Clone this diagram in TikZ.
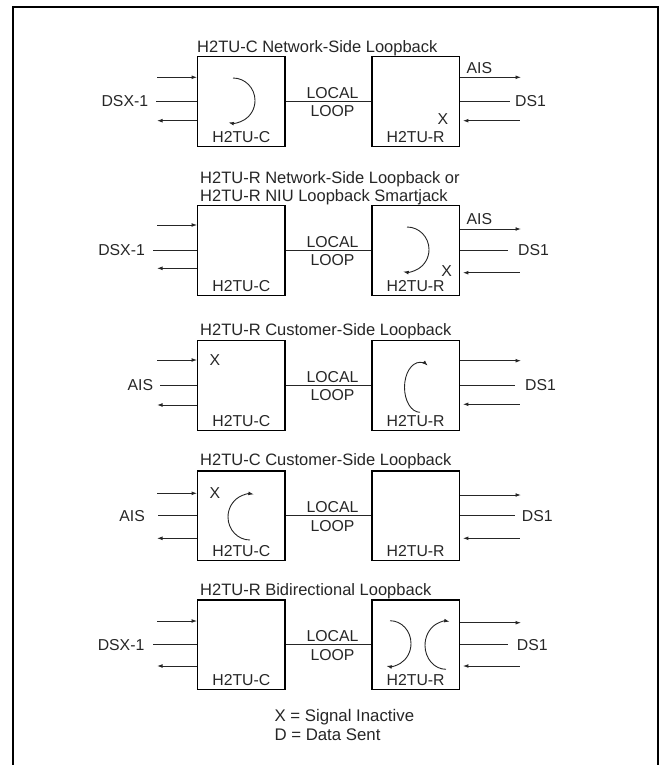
\documentclass[tikz,border=0pt]{standalone}
\usepackage{fontspec}
\setmainfont{Liberation Sans}
\usetikzlibrary{arrows.meta}
\begin{document}
\begin{tikzpicture}[x=1pt,y=-1pt,
  unitbox/.style={draw, line width=1.2pt, minimum width=87.3pt, minimum height=89.5pt, inner sep=0pt},
  sig/.style={line width=0.9pt, draw=black!85},
  sigarrow/.style={sig, -{Latex[length=5.5pt,width=3.8pt]}},
  looparc/.style={line width=0.9pt, draw=black!85, -{Latex[length=5.5pt,width=3.8pt]}},
  txt/.style={font=\fontsize{15.8}{18}\selectfont, inner sep=0pt, anchor=base, text=black!85},
  titletxt/.style={txt, anchor=base west, font=\fontsize{16.5}{18}\selectfont},
  legendtxt/.style={txt, anchor=base west, font=\fontsize{16.8}{18}\selectfont},
  frame/.style={line width=1.7pt}]
\useasboundingbox (0,0) rectangle (659,765);
\draw[frame] (12.7,765) -- (12.7,7.3) -- (658.3,7.3) -- (658.3,765);

\foreach \i/\t/\lt/\lb/\rt/\rb/\lab/\lx/\ls/\re/\rx in {
  1/56.7/20.6/64/20.6/64/DSX-1/148.3/156/510/515,
  2/205.7/19.3/62.6/23.3/67/DSX-1/145/153/508/518,
  3/340.7/19.3/64.3/20/63.6/AIS/153.3/160/515/525,
  4/471/22.3/67.3/24/67.3/AIS/145/158/515/521.7,
  5/600/21/66/22.7/66/DSX-1/144.5/153/508.3/516.7}{
  \pgfmathsetmacro\yc{\t+44.65}
  \pgfmathsetmacro\ya{\t+\lt}
  \pgfmathsetmacro\ym{\t+44.5}
  \pgfmathsetmacro\yb{\t+\lb}
  \pgfmathsetmacro\yra{\t+\rt}
  \pgfmathsetmacro\yrb{\t+\rb}
  \pgfmathsetmacro\ytx{\ym+5.7}
  \node[unitbox] (c\i) at (241.35,\yc) {};
  \node[unitbox] (r\i) at (415.65,\yc) {};
  % left side
  \coordinate (la\i) at (157,\ya);
  \draw[sigarrow] (la\i) -- (c\i.west |- la\i);
  \coordinate (lm\i) at (\ls,\ym);
  \draw[sig] (lm\i) -- (c\i.west |- lm\i);
  \coordinate (lb\i) at (157,\yb);
  \draw[sigarrow] (c\i.west |- lb\i) -- (lb\i);
  \node[txt, anchor=base east] (ll\i) at (\lx,\ytx) {\lab};
  % local loop
  \draw[sig] (c\i.east) -- (r\i.west);
  \node[txt] (lo\i) at (332.5,{\t+41.7}) {LOCAL};
  \node[txt] (lp\i) at (332.5,{\t+60.2}) {LOOP};
  \node[txt] (cn\i) at (241.35,{\t+85.7}) {H2TU-C};
  \node[txt] (rn\i) at (415.65,{\t+85.7}) {H2TU-R};
  % right side
  \coordinate (ra\i) at (521,\yra);
  \draw[sigarrow] (r\i.east |- ra\i) -- (ra\i);
  \coordinate (rm\i) at (\re,\ym);
  \draw[sig] (r\i.east |- rm\i) -- (rm\i);
  \node[txt, anchor=base west] (rl\i) at (\rx,\ytx) {DS1};
  \coordinate (rb\i) at (519.5,\yrb);
  \draw[sigarrow] (rb\i) -- ([xshift=3pt]r\i.east |- rb\i);
}

% titles
\node[titletxt] (t1) at (197,52.4) {H2TU-C Network-Side Loopback};
\node[titletxt] (t2a) at (200,183.4) {H2TU-R Network-Side Loopback or};
\node[titletxt] (t2b) at (200,201.7) {H2TU-R NIU Loopback Smartjack};
\node[titletxt] (t3) at (200,335.7) {H2TU-R Customer-Side Loopback};
\node[titletxt] (t4) at (200,465.7) {H2TU-C Customer-Side Loopback};
\node[titletxt] (t5) at (200,595.7) {H2TU-R Bidirectional Loopback};

% AIS and X labels
\node[txt, anchor=base west] (ais1) at (466.5,74) {AIS};
\node[txt, anchor=base west] (ais2) at (466.5,224) {AIS};
\node[txt] (x1) at (443,124.7) {X};
\node[txt] (x2) at (446.7,276.7) {X};
\node[txt] (x3) at (215,365) {X};
\node[txt] (x4) at (215,498) {X};

% loopback arcs
\draw[looparc] (233,78) arc[start angle=90, end angle=-102, x radius=22pt, y radius=22.5pt];
\draw[looparc] (407,227) arc[start angle=90, end angle=-100, x radius=22pt, y radius=22.5pt];
\draw[looparc] (420,412.3) arc[start angle=270, end angle=60, x radius=15.5pt, y radius=25pt];
\draw[looparc] (250,540) arc[start angle=270, end angle=80, x radius=22pt, y radius=23pt];
\draw[looparc] (390,620.7) arc[start angle=90, end angle=-100, x radius=21pt, y radius=22.8pt];
\draw[looparc] (446,669.3) arc[start angle=270, end angle=80, x radius=21pt, y radius=24pt];

% legend
\node[legendtxt] (lg1) at (274.3,721.7) {X = Signal Inactive};
\node[legendtxt] (lg2) at (274.3,740.7) {D = Data Sent};
\end{tikzpicture}
\end{document}
